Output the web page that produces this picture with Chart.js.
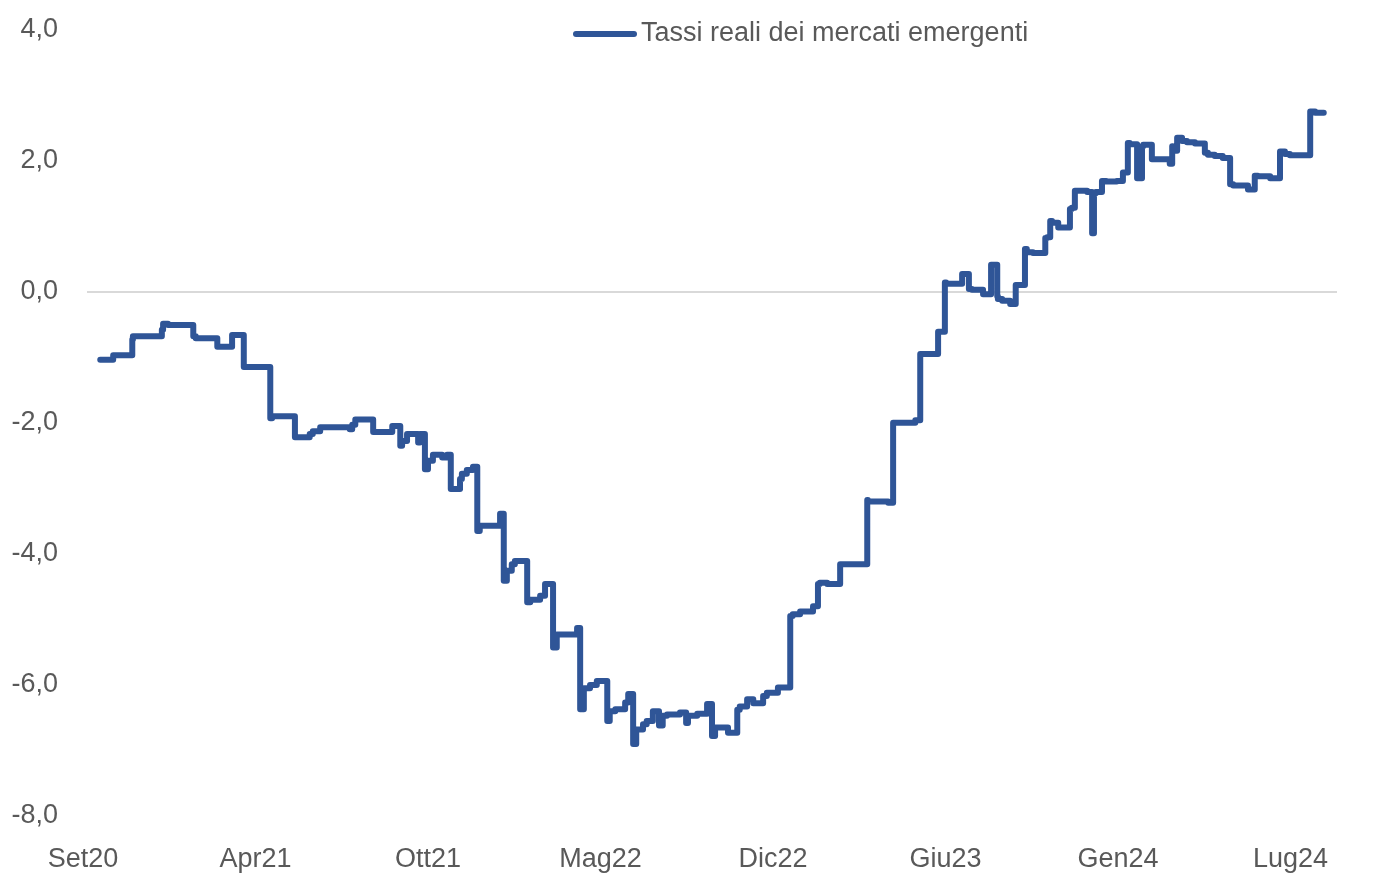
<!DOCTYPE html>
<html>
<head>
<meta charset="utf-8">
<script src="https://cdn.jsdelivr.net/npm/chart.js@4.4.1/dist/chart.umd.min.js"></script>
<style>
    html, body { margin: 0; padding: 0; background: #fff; }
    #chart { display: block; }
</style>
</head>
<body>
<canvas id="chart" width="1378" height="887"></canvas>
<script>
// Etichette asse X (una ogni 28 settimane)
const tickLabels = ['Set20', 'Apr21', 'Ott21', 'Mag22', 'Dic22', 'Giu23', 'Gen24', 'Lug24'];
const tickWeeks = [0, 28, 56, 84, 112, 140, 168, 196];

// Serie: settimane dall'inizio e valori
const weeks = [
    2.8, 4.9, 5.7, 8.0, 8.1, 9.3, 12.8, 13.0, 13.8, 17.9,
    18.3, 21.8, 22.2, 24.2, 24.5, 26.1, 26.3, 30.4, 30.7, 34.4,
    34.7, 36.8, 37.3, 38.5, 39.0, 43.3, 43.7, 44.2, 45.0, 47.1,
    47.4, 50.2, 50.3, 51.5, 51.8, 52.6, 53.6, 54.4, 54.7, 55.5,
    56.0, 56.8, 58.3, 59.1, 59.7, 60.1, 61.2, 61.5, 62.3, 63.3,
    64.0, 64.4, 65.3, 67.7, 68.3, 68.8, 69.6, 70.1, 72.1, 72.6,
    74.2, 75.0, 76.3, 76.9, 77.8, 80.2, 80.7, 81.3, 82.3, 83.4,
    85.1, 85.5, 86.4, 88.0, 88.5, 89.3, 89.8, 90.9, 91.5, 92.5,
    93.5, 94.1, 94.8, 96.9, 97.9, 98.2, 99.7, 101.3, 102.1, 102.6,
    103.7, 104.7, 105.3, 106.2, 106.6, 107.8, 108.8, 110.4, 111.0, 112.8,
    113.5, 114.8, 115.2, 116.4, 118.5, 119.3, 119.6, 120.8, 122.9, 123.4,
    127.3, 127.4, 130.7, 131.5, 131.8, 135.1, 135.9, 136.0, 138.8, 139.1,
    139.9, 140.1, 142.7, 142.8, 143.8, 144.3, 146.1, 146.7, 147.4, 147.7,
    148.4, 148.5, 149.2, 150.5, 151.4, 151.6, 152.9, 153.2, 154.2, 156.2,
    156.5, 157.0, 157.3, 158.3, 160.2, 160.5, 161.0, 161.3, 163.0, 163.8,
    164.1, 164.4, 165.4, 166.1, 167.8, 168.8, 169.1, 169.6, 169.9, 171.1,
    171.9, 172.1, 173.5, 173.8, 176.4, 176.8, 176.9, 177.6, 178.4, 179.2,
    180.5, 182.1, 182.6, 183.7, 185.0, 186.2, 186.7, 189.1, 190.2, 190.7,
    192.7, 194.3, 195.1, 195.9, 199.2, 200.0, 201.4
];
const rates = [
    -1.04, -1.04, -0.97, -0.97, -0.73, -0.68, -0.68, -0.58, -0.49, -0.51,
    -0.68, -0.71, -0.84, -0.84, -0.66, -0.66, -1.15, -1.15, -1.93, -1.90,
    -2.22, -2.22, -2.17, -2.13, -2.07, -2.07, -2.10, -2.03, -1.95, -1.95,
    -2.14, -2.14, -2.05, -2.05, -2.35, -2.28, -2.17, -2.17, -2.30, -2.17,
    -2.71, -2.58, -2.49, -2.53, -2.49, -3.01, -3.01, -2.86, -2.78, -2.72,
    -2.67, -3.65, -3.57, -3.57, -3.39, -4.41, -4.26, -4.16, -4.11, -4.74,
    -4.70, -4.64, -4.46, -5.43, -5.23, -5.23, -5.13, -6.37, -6.05, -6.00,
    -5.94, -6.55, -6.40, -6.37, -6.27, -6.14, -6.90, -6.68, -6.60, -6.55,
    -6.40, -6.62, -6.47, -6.45, -6.42, -6.58, -6.47, -6.44, -6.29, -6.78,
    -6.65, -6.65, -6.73, -6.73, -6.38, -6.33, -6.22, -6.28, -6.17, -6.12,
    -6.04, -6.04, -4.95, -4.92, -4.88, -4.80, -4.46, -4.44, -4.46, -4.16,
    -4.16, -3.18, -3.20, -3.22, -2.00, -2.00, -1.96, -0.95, -0.95, -0.61,
    -0.61, 0.14, 0.12, 0.27, 0.27, 0.04, 0.03, -0.04, -0.04, 0.41,
    0.41, -0.07, -0.11, -0.14, -0.19, 0.10, 0.10, 0.65, 0.60, 0.59,
    0.82, 0.83, 1.08, 1.05, 0.98, 1.26, 1.28, 1.54, 1.54, 1.52,
    0.89, 1.50, 1.52, 1.69, 1.68, 1.69, 1.82, 1.82, 2.27, 2.25,
    1.73, 2.22, 2.24, 2.02, 2.02, 1.95, 2.22, 2.15, 2.35, 2.30,
    2.28, 2.26, 2.12, 2.09, 2.07, 2.04, 1.64, 1.62, 1.56, 1.77,
    1.76, 1.73, 2.14, 2.10, 2.08, 2.75, 2.73
];

const textColor = '#595959';
const fontFamily = '"Liberation Sans", Arial, sans-serif';
const fontSize = 27;

// Legenda disegnata dentro l'area del grafico, come nell'originale
const legendPlugin = {
    id: 'insideLegend',
    afterDraw(chart) {
        const ds = chart.data.datasets[0];
        const ctx = chart.ctx;
        ctx.save();
        ctx.strokeStyle = ds.borderColor;
        ctx.lineWidth = 6;
        ctx.lineCap = 'round';
        ctx.beginPath();
        ctx.moveTo(576, 34);
        ctx.lineTo(634, 34);
        ctx.stroke();
        ctx.fillStyle = textColor;
        ctx.font = fontSize + 'px ' + fontFamily;
        ctx.textBaseline = 'middle';
        ctx.textAlign = 'left';
        ctx.fillText(ds.label, 641, 34);
        ctx.restore();
    }
};

new Chart(document.getElementById('chart').getContext('2d'), {
    type: 'line',
    data: {
        datasets: [{
            label: 'Tassi reali dei mercati emergenti',
            data: weeks.map((w, i) => ({ x: w, y: rates[i] })),
            borderColor: '#2F5597',
            borderWidth: 6,
            borderJoinStyle: 'round',
            borderCapStyle: 'round',
            stepped: 'after',
            pointRadius: 0,
            fill: false
        }]
    },
    options: {
        responsive: false,
        animation: false,
        layout: { padding: { top: 29.5, right: 41, left: 0, bottom: 0 } },
        plugins: {
            legend: { display: false },
            tooltip: { enabled: false }
        },
        scales: {
            x: {
                type: 'linear',
                min: 0.65,
                max: 203.55,
                afterBuildTicks: axis => { axis.ticks = tickWeeks.map(v => ({ value: v })); },
                afterFit: axis => { axis.height = 71; },
                grid: { display: false, drawTicks: false },
                border: { display: false },
                ticks: {
                    autoSkip: false,
                    maxRotation: 0,
                    padding: 27,
                    color: textColor,
                    font: { size: fontSize, family: fontFamily },
                    callback: v => tickLabels[tickWeeks.indexOf(v)]
                }
            },
            y: {
                min: -8,
                max: 4,
                afterFit: axis => {
                    axis.width = 87;
                    axis.paddingTop = 0;
                    axis.paddingBottom = 0;
                },
                grid: {
                    drawTicks: false,
                    lineWidth: 2,
                    color: c => c.tick && c.tick.value === 0 ? '#d9d9d9' : 'rgba(0,0,0,0)'
                },
                border: { display: false },
                ticks: {
                    stepSize: 2,
                    padding: 29,
                    color: textColor,
                    font: { size: fontSize, family: fontFamily },
                    callback: v => v.toFixed(1).replace('.', ',')
                }
            }
        }
    },
    plugins: [legendPlugin]
});
</script>
</body>
</html>
